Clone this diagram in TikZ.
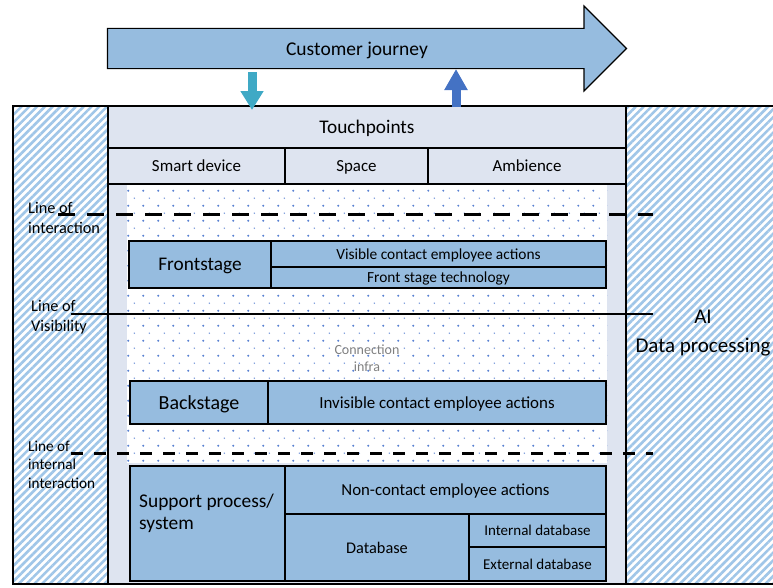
\documentclass[tikz,border=0pt]{standalone}
\usepackage{fontspec}
\setmainfont{Carlito}
\usetikzlibrary{positioning,shapes.arrows,arrows.meta,patterns.meta}
\definecolor{boxblue}{RGB}{150,188,223}
\definecolor{panelgray}{RGB}{222,228,240}
\definecolor{hatchblue}{RGB}{160,198,232}
\definecolor{dotblue}{RGB}{90,130,210}
\definecolor{tealarrow}{RGB}{63,169,197}
\definecolor{bluearrow}{RGB}{68,114,196}

\begin{document}
\begin{tikzpicture}[x=1pt,y=-1pt,
  cell/.style={rectangle,draw,line width=1.6pt,anchor=north west,inner sep=0pt,outer sep=0pt,fill=panelgray},
  bluecell/.style={cell,fill=boxblue},
  fs/.style={font=\fontsize{#1}{#1}\selectfont,text depth=0pt},
  lbl/.style={align=left,anchor=west,inner sep=0pt,font=\fontsize{16.3}{20}\selectfont},
  interline/.style={line width=3.5pt,dash pattern=on 16.5pt off 12.5pt},
  internline/.style={line width=3pt,dash pattern=on 12pt off 11pt}]
\useasboundingbox (0,0) rectangle (773,587);
\clip (0,0) rectangle (773,587);

% hatched band
\fill[white] (13,106) rectangle (800,584);
\fill[pattern={Lines[angle=45,distance=5.5pt,line width=2.6pt]},pattern color=hatchblue]
  (13,106) rectangle (800,584);
\draw[line width=1.6pt] (800,106) -- (13,106) -- (13,584) -- (800,584);

% panel and touchpoints
\node[cell,minimum width=518,minimum height=478] (panel) at (108,106) {};
\node[cell,minimum width=518,minimum height=42,fs=19.3] (tp) at (108,106) {Touchpoints};
\node[cell,minimum width=177,minimum height=36,fs=16.9] (smart) at (tp.south west) {Smart device};
\node[cell,minimum width=143,minimum height=36,fs=16.9] (space) at (smart.north east) {Space};
\node[cell,minimum width=198,minimum height=36,fs=16.9] (amb) at (space.north east) {Ambience};

% dotted area
\node[rectangle,fill=white,anchor=north west,inner sep=0pt,minimum width=480,minimum height=278] (dots) at (127,185) {};
\begin{scope}
  \clip (dots.north west) rectangle (dots.south east);
  \foreach \i in {0,...,32}
    \foreach \j in {0,...,18} {
      \fill[dotblue] (128.3+15*\i,190.7+15*\j) circle (1.1pt);
      \fill[dotblue!80] (134.3+15*\i,198.2+15*\j) circle (0.8pt);
    }
\end{scope}
\node[align=center,text=gray,font=\fontsize{14}{17}\selectfont] (infra) at (367,358) {Connection\\infra};

% frontstage
\node[bluecell,minimum width=142,minimum height=47,fs=19.3] (front) at (129,241) {Frontstage};
\node[bluecell,minimum width=335,minimum height=26,fs=15.4] (visible) at (front.north east) {Visible contact employee actions};
\node[bluecell,minimum width=335,minimum height=21,fs=15.4] (fronttech) at (visible.south west) {Front stage technology};

% backstage
\node[bluecell,minimum width=138,minimum height=43,fs=20] (back) at (130,381) {Backstage};
\node[bluecell,minimum width=338,minimum height=43,fs=16.9] (invisible) at (back.north east) {Invisible contact employee actions};

% support
\node[bluecell,minimum width=155,minimum height=115] (support) at (130,466) {};
\node[anchor=west,align=left,inner sep=0pt,font=\fontsize{19.4}{22}\selectfont] (supporttxt) at ([xshift=9pt,yshift=10pt]support.west) {Support process/\\system};
\node[bluecell,minimum width=321,minimum height=48,fs=16.8] (noncontact) at (support.north east) {Non-contact employee actions};
\node[bluecell,minimum width=184,minimum height=67,fs=16.3] (db) at (noncontact.south west) {Database};
\node[bluecell,minimum width=137,minimum height=33,fs=15] (intdb) at (db.north east) {Internal database};
\node[bluecell,minimum width=137,minimum height=34,fs=15] (extdb) at (intdb.south west) {External database};

% customer journey
\node[single arrow,draw,line width=1.2pt,fill=boxblue,minimum height=519,minimum width=85,
  single arrow head extend=22,single arrow tip angle=90,inner xsep=0pt,inner ysep=12.5pt,
  outer sep=0pt,fs=19.5] (journey) at (357,48.5) {Customer journey};
\coordinate (in) at (252,72);
\coordinate (out) at (456,69);
\draw[line width=9pt,tealarrow,-{Triangle[width=22pt,length=19pt]}] (in) -- ([yshift=-4pt]in |- tp.north);
\draw[line width=9pt,bluearrow,-{Triangle[width=22pt,length=21pt]}] ([yshift=-1pt]out |- tp.north) -- (out);

% lines
\node[lbl] (lint) at (28,218) {Line of\\interaction};
\node[lbl] (lvis) at (31,317.5) {Line of\\Visibility};
\node[lbl,font=\fontsize{15.2}{18.5}\selectfont] (lintern) at (28,464.5) {Line of\\internal\\interaction};
\draw[interline] (58,214.5) -- (653,214.5);
\draw[line width=2pt] (71,313.5) -- (653,313.5);
\draw[internline] (71,453) -- (653,453);

\node[align=center,font=\fontsize{21}{29}\selectfont] (ai) at (703,333) {AI\\Data processing};
\end{tikzpicture}
\end{document}
